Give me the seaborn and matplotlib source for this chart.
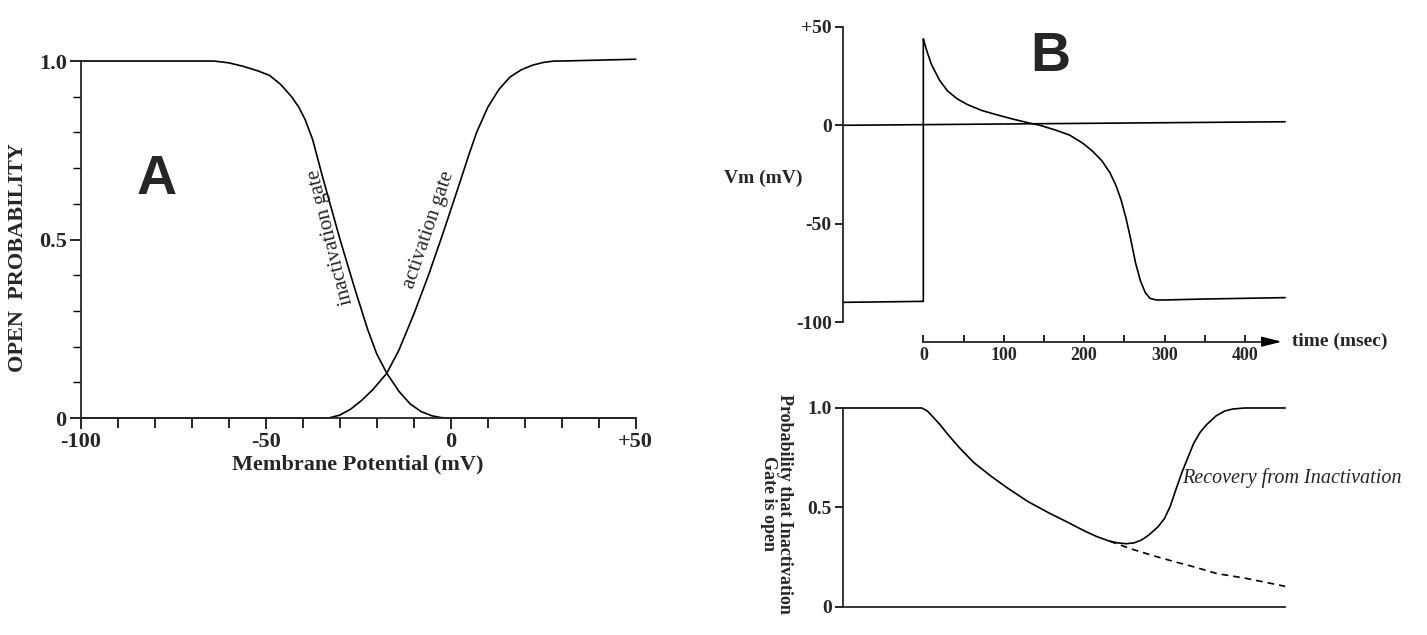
import numpy as np
import pandas as pd
import matplotlib
matplotlib.use("Agg")
import matplotlib.pyplot as plt
import seaborn as sns
from matplotlib.ticker import MultipleLocator, FixedLocator

# ── Data ─────────────────────────────────────────────────────
# Panel A: steady-state gate open probability vs membrane potential
inact_mv = [-100, -64, -60, -56, -52, -49, -46, -43, -41, -39.3, -37.3, -35, -33,
            -29.9, -26, -22.5, -20, -17.3, -14, -11, -8, -5, -2.5, 0, 50]
inact_p = [1, 1, 0.995, 0.985, 0.972, 0.96, 0.935, 0.90, 0.87, 0.835, 0.78, 0.69, 0.615,
           0.5, 0.365, 0.25, 0.18, 0.126, 0.075, 0.04, 0.018, 0.006, 0.001, 0, 0]

act_mv = [-100, -33, -30, -27, -24, -21, -17.3, -14, -10, -6, -2, 2, 5, 7,
          10, 13, 16, 19, 22, 25, 28, 30, 50]
act_p = [0, 0, 0.008, 0.025, 0.05, 0.08, 0.125, 0.19, 0.29, 0.40, 0.52, 0.645, 0.74, 0.8,
         0.87, 0.92, 0.955, 0.975, 0.988, 0.996, 1.0, 1.0, 1.005]

# Panel B (top): action potential
ap_t = [-100, 0, 0, 2, 5, 10, 20, 30, 42, 55, 73, 90, 109, 128, 145, 165, 182,
        198, 210, 222, 232, 240, 246, 252, 258, 264, 270, 276, 282, 290, 300, 350, 450]
ap_v = [-90, -89.5, 44, 41, 37, 31, 23, 17.5, 13.5, 10.5, 7.5, 5.5, 3.4, 1.5, 0, -2.5, -5,
        -9, -13, -18, -24, -31, -38, -47, -58, -70, -79, -85, -88, -88.8, -88.8, -88.3, -87.6]
zero_t = [-100, 450]
zero_v = [0, 1.8]

# Panel B (bottom): inactivation gate probability over time
rec_t = [-100, -2, 5, 12, 20, 32, 45, 63, 85, 105, 130, 157, 180, 198, 215, 230, 242,
         252, 262, 271, 280, 292, 300, 307, 315, 322, 328, 336, 344, 352, 364, 375, 385, 400, 450]
rec_p = [1, 1, 0.985, 0.955, 0.92, 0.86, 0.80, 0.725, 0.655, 0.597, 0.53, 0.471, 0.425, 0.387,
         0.355, 0.333, 0.322, 0.318, 0.322, 0.336, 0.36, 0.403, 0.445, 0.505, 0.6, 0.68, 0.74,
         0.82, 0.876, 0.915, 0.96, 0.985, 0.995, 1.0, 1.0]
noreco_t = [232, 260, 290, 313, 340, 365, 400, 450]
noreco_p = [0.33, 0.29, 0.253, 0.227, 0.198, 0.168, 0.145, 0.104]

a_ticks = [-100, -50, 0, 50]
a_ticklabels = ["-100", "-50", "0", "+50"]
p_ticks = [0, 0.5, 1.0]
p_ticklabels = ["0", "0.5", "1.0"]
v_ticks = [50, 0, -50, -100]
v_ticklabels = ["+50", "0", "-50", "-100"]
t_ticks = [0, 100, 200, 300, 400]
t_minor = [50, 150, 250, 350]

# ── Style ───────────────────────────────────────────────────
sns.set_theme(style="ticks")
plt.rcParams['font.family'] = ['Liberation Serif', 'DejaVu Serif']
plt.rcParams['axes.linewidth'] = 1.3
LW = 1.2
SANS = ['Liberation Sans', 'DejaVu Sans']

fig = plt.figure(figsize=(14.27, 6.35), dpi=100)


def bold_ticks(ax, size):
    for lbl in ax.get_xticklabels() + ax.get_yticklabels():
        lbl.set_fontweight('bold')
        lbl.set_fontsize(size)


# ── Panel A ─────────────────────────────────────────────────
axA = fig.add_axes([0.0565, 0.3417, 0.389, 0.5622])
sns.lineplot(x=inact_mv, y=inact_p, ax=axA, color='black', lw=LW, estimator=None, sort=False)
sns.lineplot(x=act_mv, y=act_p, ax=axA, color='black', lw=LW, estimator=None, sort=False)
axA.set_xlim(-100, 50)
axA.set_ylim(0, 1)
sns.despine(ax=axA)
axA.set_xticks(a_ticks, a_ticklabels)
axA.set_yticks(p_ticks, p_ticklabels)
axA.xaxis.set_minor_locator(MultipleLocator(10))
axA.yaxis.set_minor_locator(MultipleLocator(0.1))
axA.tick_params(which='major', length=8, width=1.2, color='black', pad=2)
axA.tick_params(axis='x', which='minor', length=7, width=1.2, color='black')
axA.tick_params(axis='y', which='minor', length=6, width=1.0, color='black')
bold_ticks(axA, 16)
axA.set_xlabel("Membrane Potential (mV)", fontsize=16, fontweight='bold', labelpad=2)
axA.text(-0.113, 0.45, "OPEN  PROBABILITY", transform=axA.transAxes, rotation=90,
         ha='center', va='center', fontsize=16, fontweight='bold')
axA.text(-79.4, 0.667, "A", fontsize=40, fontweight='bold', family=SANS,
         ha='center', va='center')
axA.text(-32.4, 0.507, "inactivation gate", fontsize=15, rotation=104,
         rotation_mode='anchor', ha='center', va='center')
axA.text(-5.9, 0.527, "activation gate", fontsize=15, rotation=71,
         rotation_mode='anchor', ha='center', va='center')

# ── Panel B top: action potential ───────────────────────────
axB1 = fig.add_axes([0.5907, 0.4526, 0.311, 0.5112])
sns.lineplot(x=zero_t, y=zero_v, ax=axB1, color='black', lw=LW, estimator=None, sort=False)
sns.lineplot(x=ap_t, y=ap_v, ax=axB1, color='black', lw=LW, estimator=None, sort=False)
axB1.set_xlim(-100, 452)
axB1.set_ylim(-113, 52)
axB1.spines['top'].set_visible(False)
axB1.spines['right'].set_visible(False)
axB1.spines['left'].set_bounds(-100, 50)
axB1.spines['bottom'].set_position(('data', -110))
axB1.spines['bottom'].set_bounds(0, 437)
axB1.set_yticks(v_ticks, v_ticklabels)
axB1.set_xticks(t_ticks, [str(t) for t in t_ticks])
axB1.xaxis.set_minor_locator(FixedLocator(t_minor))
axB1.tick_params(axis='y', length=6, width=1.2, color='black', pad=2)
axB1.tick_params(axis='x', which='both', direction='in', length=5, width=1.2,
                 color='black', pad=4)
bold_ticks(axB1, 14)
for lbl in axB1.get_xticklabels():
    lbl.set_fontsize(13)
axB1.annotate('', xy=(446, -110), xytext=(428, -110), annotation_clip=False,
              arrowprops=dict(arrowstyle='-|>,head_length=0.6,head_width=0.15',
                              color='black', lw=LW, mutation_scale=20,
                              shrinkA=0, shrinkB=0))
axB1.text(452, -110, " time (msec)", fontsize=14, fontweight='bold',
          ha='left', va='center', clip_on=False)
axB1.text(-0.18, -27, "Vm (mV)", transform=axB1.get_yaxis_transform(),
          fontsize=14, fontweight='bold', ha='center', va='center')
axB1.text(158, 34.7, "B", fontsize=40, fontweight='bold', family=SANS,
          ha='center', va='center')
axB1.set_xlabel("")
axB1.set_ylabel("")

# ── Panel B bottom: inactivation gate over time ─────────────
axB2 = fig.add_axes([0.5907, 0.0441, 0.311, 0.3134])
sns.lineplot(x=rec_t, y=rec_p, ax=axB2, color='black', lw=LW, estimator=None, sort=False)
sns.lineplot(x=noreco_t, y=noreco_p, ax=axB2, color='black', lw=LW, estimator=None,
             sort=False, linestyle=(0, (4, 3)))
axB2.set_xlim(-100, 452)
axB2.set_ylim(0, 1)
axB2.spines['top'].set_visible(False)
axB2.spines['right'].set_visible(False)
axB2.spines['bottom'].set_bounds(-100, 450)
axB2.set_yticks(p_ticks, p_ticklabels)
axB2.tick_params(axis='x', bottom=False, labelbottom=False)
axB2.tick_params(axis='y', length=6, width=1.2, color='black', pad=2)
bold_ticks(axB2, 14)
axB2.text(-0.149, 0.52, "Probability that Inactivation\nGate is open",
          transform=axB2.transAxes, rotation=-90, ha='center', va='center',
          multialignment='center', fontsize=13, fontweight='bold', linespacing=0.95)
axB2.text(322, 0.648, "Recovery from Inactivation", fontsize=14.5, style='italic',
          ha='left', va='center', clip_on=False)

for ax in (axA, axB1, axB2):
    for ln in ax.lines:
        ln.set_clip_on(False)

fig.savefig("out.png", dpi=100, facecolor='white')
